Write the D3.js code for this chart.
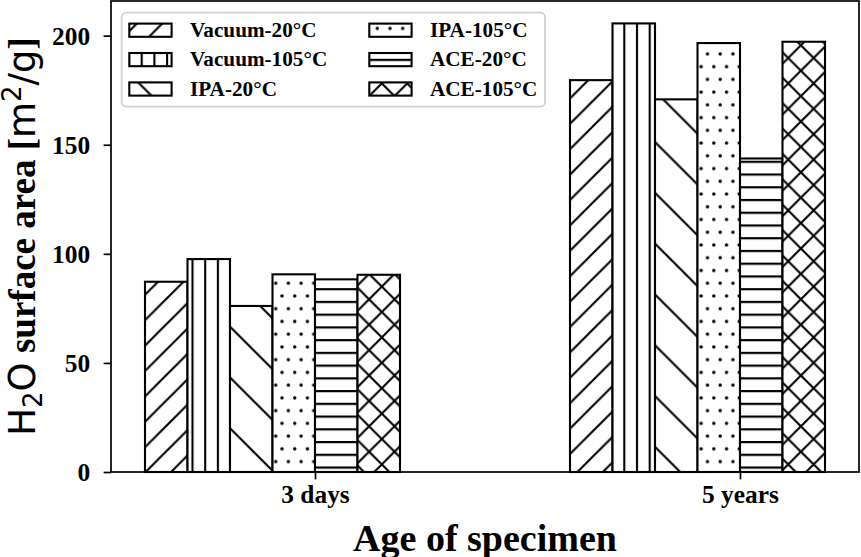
<!DOCTYPE html>
<html>
<head>
<meta charset="utf-8">
<script src="https://cdn.jsdelivr.net/npm/d3@7"></script>
<style>
  html, body { margin: 0; padding: 0; background: #fff; }
  svg { display: block; }
</style>
</head>
<body>
<svg id="chart" width="861" height="557"></svg>
<script>
// ---------------- data ----------------
const categories = ["3 days", "5 years"];
const seriesNames = ["Vacuum-20°C", "Vacuum-105°C", "IPA-20°C", "IPA-105°C", "ACE-20°C", "ACE-105°C"];
const vacuum20 = [87.2, 179.6];
const vacuum105 = [97.6, 205.6];
const ipa20 = [76.1, 170.8];
const ipa105 = [90.6, 196.6];
const ace20 = [88.3, 143.7];
const ace105 = [90.4, 197.2];
const yTicks = [0, 50, 100, 150, 200];
const hatches = ["ne", "vert", "se", "dots", "horiz", "cross"];

const seriesValues = [vacuum20, vacuum105, ipa20, ipa105, ace20, ace105];

// ---------------- layout ----------------
const W = 861, H = 557;
const plot = { left: 111, right: 859, top: 1, bottom: 472 };
const barW = 0.1;
const yMax = d3.max(seriesValues.flat()) * 1.05;

const svg = d3.select("#chart");
const x = d3.scaleLinear().domain([-0.48, 1.28]).range([plot.left, plot.right]);
const y = d3.scaleLinear().domain([0, yMax]).range([plot.bottom, plot.top]);

const serif = "'Liberation Serif', 'Times New Roman', serif";
const sans = "'DejaVu Sans', sans-serif";

// ---------------- hatch patterns (device-space tiling) ----------------
const defs = svg.append("defs");
const HW = 2.1; // hatch line width
function linePattern(id, P, c, dir) {
  const p = defs.append("pattern").attr("id", id)
    .attr("patternUnits", "userSpaceOnUse").attr("x", 0).attr("y", 0)
    .attr("width", P).attr("height", P);
  p.append("rect").attr("width", P).attr("height", P).attr("fill", "#fff");
  let d = "";
  for (let k = -2; k <= 2; k++) {
    const s = c + k * P;
    if (dir === "ne") d += `M${s + P},${-P}L${s - 2 * P},${2 * P}`;
    else d += `M${s - P},${-P}L${s + 2 * P},${2 * P}`;
  }
  p.append("path").attr("d", d).attr("stroke", "#000").attr("stroke-width", HW).attr("fill", "none");
  return p;
}
linePattern("ne", 25.4, 8, "ne");
linePattern("se", 50.8, 5, "se");
{
  const P = 25.4;
  const p = defs.append("pattern").attr("id", "cross")
    .attr("patternUnits", "userSpaceOnUse").attr("width", P).attr("height", P);
  p.append("rect").attr("width", P).attr("height", P).attr("fill", "#fff");
  let d = "";
  for (let k = -2; k <= 2; k++) {
    const s1 = 8 + k * P, s2 = 19 + k * P;
    d += `M${s1 + P},${-P}L${s1 - 2 * P},${2 * P}`;
    d += `M${s2 - P},${-P}L${s2 + 2 * P},${2 * P}`;
  }
  p.append("path").attr("d", d).attr("stroke", "#000").attr("stroke-width", HW).attr("fill", "none");
}
{
  const S = 12.7;
  const p = defs.append("pattern").attr("id", "vert")
    .attr("patternUnits", "userSpaceOnUse").attr("width", S).attr("height", S);
  p.append("rect").attr("width", S).attr("height", S).attr("fill", "#fff");
  p.append("path").attr("d", `M2,-1V${S + 1}M${2 + S},-1V${S + 1}M${2 - S},-1V${S + 1}`)
    .attr("stroke", "#000").attr("stroke-width", HW);
}
{
  const S = 12.74;
  const p = defs.append("pattern").attr("id", "horiz")
    .attr("patternUnits", "userSpaceOnUse").attr("width", S).attr("height", S);
  p.append("rect").attr("width", S).attr("height", S).attr("fill", "#fff");
  p.append("path").attr("d", `M-1,9H${S + 1}M-1,${9 - S}H${S + 1}M-1,${9 + S}H${S + 1}`)
    .attr("stroke", "#000").attr("stroke-width", HW);
}
{
  const TW = 12.7, TH = 25.48;
  const p = defs.append("pattern").attr("id", "dots")
    .attr("patternUnits", "userSpaceOnUse").attr("width", TW).attr("height", TH);
  p.append("rect").attr("width", TW).attr("height", TH).attr("fill", "#fff");
  const pts = [[9, 3.02], [2.65, 15.76]];
  pts.forEach(([cx, cy]) => {
    for (let i = -1; i <= 1; i++) for (let j = -1; j <= 1; j++) {
      p.append("circle").attr("cx", cx + i * TW).attr("cy", cy + j * TH).attr("r", 1.75).attr("fill", "#000");
    }
  });
}

// ---------------- bars ----------------
const barData = [];
seriesValues.forEach((vals, si) => {
  vals.forEach((v, ci) => {
    barData.push({ si, ci, v, x0: ci + (si - 4) * barW });
  });
});
svg.append("g").selectAll("rect").data(barData).join("rect")
  .attr("x", d => x(d.x0))
  .attr("width", d => x(d.x0 + barW) - x(d.x0))
  .attr("y", d => y(d.v))
  .attr("height", d => y(0) - y(d.v))
  .attr("fill", d => `url(#${hatches[d.si]})`)
  .attr("stroke", "#000").attr("stroke-width", 2.1);

// ---------------- axes ----------------
const tickFont = { size: 25.4 };
const xAxis = d3.axisBottom(x).tickValues([0, 1]).tickFormat(i => categories[i])
  .tickSize(7.4).tickPadding(6);
const gx = svg.append("g").attr("transform", `translate(0,${plot.bottom})`).call(xAxis);
gx.select(".domain").remove();
gx.selectAll(".tick line").attr("stroke", "#000").attr("stroke-width", 1.7);
gx.selectAll(".tick text").attr("font-family", serif).attr("font-weight", "bold")
  .attr("font-size", tickFont.size).attr("fill", "#000").attr("dy", "0.71em");

const yAxis = d3.axisLeft(y).tickValues(yTicks).tickFormat(d3.format("d"))
  .tickSize(7.4).tickPadding(13.5);
const gy = svg.append("g").attr("transform", `translate(${plot.left},0)`).call(yAxis);
gy.select(".domain").remove();
gy.selectAll(".tick line").attr("stroke", "#000").attr("stroke-width", 1.7);
gy.selectAll(".tick text").attr("font-family", serif).attr("font-weight", "bold")
  .attr("font-size", tickFont.size).attr("fill", "#000").attr("dy", "0.33em");

// frame
svg.append("rect").attr("x", plot.left).attr("y", plot.top)
  .attr("width", plot.right - plot.left).attr("height", plot.bottom - plot.top)
  .attr("fill", "none").attr("stroke", "#000").attr("stroke-width", 1.7);

// axis labels
svg.append("text").attr("x", (plot.left + plot.right) / 2).attr("y", 551)
  .attr("text-anchor", "middle").attr("font-family", serif).attr("font-weight", "bold")
  .attr("font-size", 38).attr("fill", "#000").text("Age of specimen");

const yl = svg.append("text").attr("transform", `translate(35,${(plot.top + plot.bottom) / 2}) rotate(-90)`)
  .attr("text-anchor", "middle").attr("font-size", 37).attr("fill", "#000");
yl.append("tspan").attr("font-family", sans).text("H");
yl.append("tspan").attr("font-family", sans).attr("font-size", 26).attr("dy", 7).text("2");
yl.append("tspan").attr("font-family", sans).attr("dy", -7).text("O");
yl.append("tspan").attr("font-family", serif).attr("font-weight", "bold").text(" surface area [");
yl.append("tspan").attr("font-family", sans).text("m");
yl.append("tspan").attr("font-family", sans).attr("font-size", 26).attr("dy", -14).text("2");
yl.append("tspan").attr("font-family", sans).attr("dy", 14).text("/g");
yl.append("tspan").attr("font-family", serif).attr("font-weight", "bold").text("]");

// ---------------- legend ----------------
const lg = svg.append("g");
lg.append("rect").attr("x", 121.7).attr("y", 12.7).attr("width", 545 - 121.7).attr("height", 106.7 - 12.7)
  .attr("rx", 4.5).attr("fill", "#fff").attr("stroke", "#d0d0d0").attr("stroke-width", 1.8);
const legCols = [129.3, 369.3];
const rowCenter = [30.2, 59.6, 89.0];
seriesNames.forEach((name, i) => {
  const col = Math.floor(i / 3), row = i % 3;
  const hx = legCols[col], cy = rowCenter[row];
  lg.append("rect").attr("x", hx).attr("y", cy - 6.6).attr("width", 42.3).attr("height", 13.2)
    .attr("fill", `url(#${hatches[i]})`).attr("stroke", "#000").attr("stroke-width", 2.1);
  lg.append("text").attr("x", hx + 60.7).attr("y", cy + 6.8)
    .attr("font-family", serif).attr("font-weight", "bold").attr("font-size", 21.2)
    .attr("fill", "#000").text(name);
});
</script>
</body>
</html>
